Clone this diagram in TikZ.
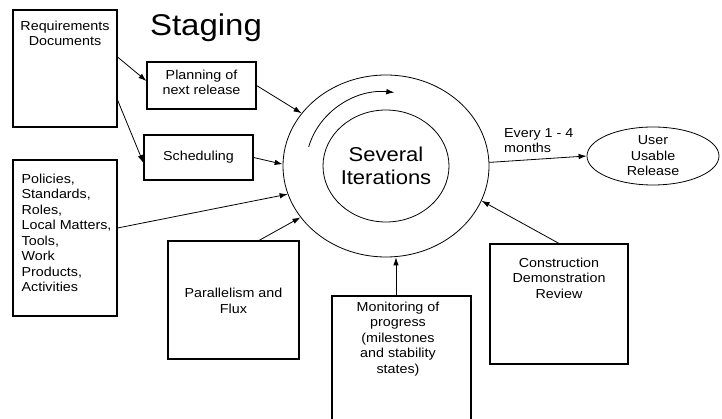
\documentclass[tikz,border=0pt]{standalone}
\usepackage{fontspec}
\setmainfont[FakeStretch=1.1]{Liberation Sans}
\usetikzlibrary{arrows.meta}
\usetikzlibrary{shapes.geometric,positioning}

\begin{document}
\begin{tikzpicture}[x=1pt,y=1pt]
	\useasboundingbox (0,0) rectangle (722,-419);

	\begin{scope}[every node/.style={rectangle,draw,line width=1.1pt,inner sep=0pt}]
		\node[minimum width=104pt,minimum height=117pt] (req) at (65,-68.5) {};
		\node[minimum width=109pt,minimum height=47pt] (plan) at (201.5,-85.5) {};
		\node[minimum width=109pt,minimum height=45pt] (sched) at (198.5,-157.5) {};
		\node[minimum width=104pt,minimum height=156pt] (pol) at (65,-238) {};
		\node[minimum width=131pt,minimum height=118pt] (par) at (233.5,-300) {};
		\node[minimum width=139pt,minimum height=130pt] (mon) at (401.5,-361) {};
		\node[minimum width=138pt,minimum height=120pt] (con) at (559,-304) {};
	\end{scope}

	\begin{scope}[every node/.style={ellipse,draw,line width=0.8pt,inner sep=0pt}]
		\node[minimum width=206pt,minimum height=182pt] (outer) at (386,-166) {};
		\node[minimum width=126pt,minimum height=112pt] (inner) at (386,-166) {};
		\node[minimum width=132pt,minimum height=58pt] (user) at (653,-156) {};
	\end{scope}

	\begin{scope}[every node/.style={font=\fontsize{13}{15.5}\selectfont,align=center,inner sep=3pt}]
		\node[anchor=north] (reqtxt) at ([yshift=-8pt]req.north) {Requirements\\Documents};
		\node (plantxt) at ([yshift=3pt]plan.center) {Planning of\\next release};
		\node (schedtxt) at (sched.center) {Scheduling};
		\node[anchor=north west,align=left] (poltxt) at ([xshift=6pt,yshift=-11pt]pol.north west)
			{Policies,\\Standards,\\Roles,\\Local Matters,\\Tools,\\Work\\Products,\\Activities};
		\node (partxt) at ([yshift=-1pt]par.center) {Parallelism and\\Flux};
		\node[anchor=north] (montxt) at ([xshift=-3.5pt,yshift=-3pt]mon.north)
			{Monitoring of\\progress\\(milestones\\and stability\\states)};
		\node[anchor=north] (contxt) at ([yshift=-11pt]con.north) {Construction\\Demonstration\\Review};
		\node (usertxt) at (user.center) {User\\Usable\\Release};
		\node[anchor=west,align=left] (every) at (501,-140.5) {Every 1 - 4\\months};
		\node[font=\fontsize{30}{32}\selectfont,anchor=base] (title) at (206,-36) {Staging};
		\node[font=\fontsize{20}{23.5}\selectfont] (iter) at (inner.center) {Several\\Iterations};
	\end{scope}

	\begin{scope}[>={Latex[length=8pt,width=5.5pt]},line width=0.8pt]
		\draw[->] ([yshift=11.5pt]req.east) -- ([yshift=4.5pt]plan.west);
		\draw[->] ([yshift=-31.5pt]req.east) -- ([yshift=-5.5pt]sched.west);
		\draw[->] (plan.east) -- (outer.148);
		\draw[->] (sched.east) -- (outer.179);
		\draw[->] ([yshift=10pt]pol.east) -- (outer.196);
		\draw[->] ([xshift=25.5pt]par.north) -- (outer.211);
		\draw[->] ([xshift=-5.5pt]mon.north) -- ([xshift=-5.5pt]mon.north |- outer.south);
		\draw[->] (con.north) -- (outer.340);
		\draw[->] (outer.2) -- (user.west);
		\draw[->] ([shift={(165:80pt and 74pt)}]outer.center)
			arc[start angle=165,end angle=84,x radius=80pt,y radius=74pt];
	\end{scope}
\end{tikzpicture}
\end{document}
